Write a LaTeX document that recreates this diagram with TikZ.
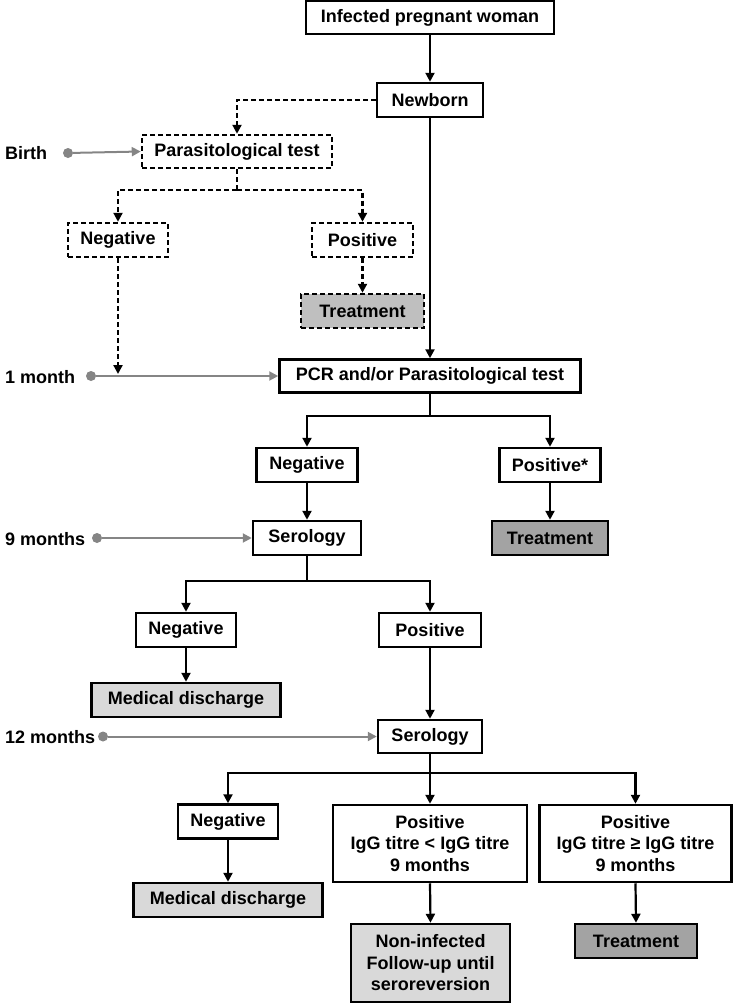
\documentclass[tikz,border=0pt]{standalone}
\usepackage{fontspec}
\setmainfont{Liberation Sans}
\usetikzlibrary{arrows.meta}
\definecolor{tgray}{HTML}{BFBFBF}
\definecolor{dgray}{HTML}{A3A3A3}
\definecolor{lgray}{HTML}{D9D9D9}
\definecolor{lineg}{HTML}{858585}
\begin{document}
\begin{tikzpicture}[x=1pt,y=-1pt,
  every node/.style={font=\fontsize{18}{21.5}\selectfont\bfseries},
  box/.style={draw,line width=2.5pt,inner sep=0pt,align=center,minimum height=34},
  dbox/.style={box,dash pattern=on 5pt off 3pt},
  conn/.style={line width=2.2pt,-{Triangle[length=9pt,width=9pt]}},
  dconn/.style={conn,dash pattern=on 5pt off 3pt},
  line/.style={line width=2.2pt},
  dline/.style={line,dash pattern=on 5pt off 3pt},
  gconn/.style={line width=2pt,lineg,-{Triangle[length=9pt,width=9pt]}},
  dot/.style={circle,fill=lineg,inner sep=0pt,minimum size=10pt},
  lab/.style={anchor=west,inner sep=0pt}]
\useasboundingbox (0,0) rectangle (733,1004);
% nodes
\node[box,minimum width=248,minimum height=33] (inf) at (430,17.5) {Infected pregnant woman};
\node[box,minimum width=106] (newborn) at (430,100) {Newborn};
\node[dbox,minimum width=190,minimum height=33] (param) at (237,151.5) {Parasitological test};
\node[dbox,minimum width=100] (neg0) at (118,240) {Negative};
\node[dbox,minimum width=101] (pos0) at (362.5,240) {Positive};
\node[dbox,minimum width=123,fill=tgray] (treat0) at (362.5,311) {Treatment};
\node[box,minimum width=301,minimum height=33] (pcr) at (430,376) {PCR and/or Parasitological test};
\node[box,minimum width=101] (neg1) at (307,465) {Negative};
\node[box,minimum width=101] (pos1) at (550,465) {Positive*};
\node[box,minimum width=108] (ser9) at (307,538) {Serology};
\node[box,minimum width=116,fill=dgray] (treat1) at (550,538) {Treatment};
\node[box,minimum width=100] (neg2) at (186,630) {Negative};
\node[box,minimum width=102] (pos2) at (430,630) {Positive};
\node[box,minimum width=189,fill=lgray] (md1) at (186,700) {Medical discharge};
\node[box,minimum width=104,minimum height=33] (ser12) at (430,736.5) {Serology};
\node[box,minimum width=100] (neg3) at (228,821.5) {Negative};
\node[box,minimum width=194,minimum height=77] (posA) at (430,843.5) {Positive\\IgG titre < IgG titre\\9 months};
\node[box,minimum width=192,minimum height=77] (posB) at (635.5,843.5) {Positive\\IgG titre ≥ IgG titre\\9 months};
\node[box,minimum width=189,fill=lgray] (md2) at (228,900) {Medical discharge};
\node[box,minimum width=159,minimum height=78,fill=lgray] (noninf) at (430.5,963) {Non-infected\\Follow-up until\\seroreversion};
\node[box,minimum width=122,fill=dgray] (treat2) at (636,941) {Treatment};
% time labels
\node[lab] (tbirth) at (5,153) {Birth};
\node[lab] (t1) at (5,377) {1 month};
\node[lab] (t9) at (5,539) {9 months};
\node[lab] (t12) at (5,737) {12 months};
\node[dot] (d0) at (68,153) {};
\node[dot] (d1) at (91,376) {};
\node[dot] (d9) at (97,538) {};
\node[dot] (d12) at (103,736.5) {};
% coordinates
\coordinate (b0) at (237,190);
\coordinate (m1) at (118,374);
\coordinate (b1) at (430,416);
\coordinate (b9) at (307,581);
\coordinate (b12) at (430,773);
% grey timeline
\draw[gconn] (d0) -- (param.west);
\draw[gconn] (d1) -- (pcr.west);
\draw[gconn] (d9) -- (ser9.west);
\draw[gconn] (d12) -- (ser12.west);
% dashed part
\draw[dconn] (newborn.west) -| (param.north);
\draw[dline] (param.south) -- (b0);
\draw[dconn] (b0) -| (neg0.north);
\draw[dconn] (b0) -| (pos0.north);
\draw[dconn] (pos0.south) -- (treat0.north);
\draw[dconn] (neg0.south) -- (m1);
% solid part
\draw[conn] (inf.south) -- (newborn.north);
\draw[conn] (newborn.south) -- (pcr.north);
\draw[line] (pcr.south) -- (b1);
\draw[conn] (b1) -| (neg1.north);
\draw[conn] (b1) -| (pos1.north);
\draw[conn] (neg1.south) -- (ser9.north);
\draw[conn] (pos1.south) -- (treat1.north);
\draw[line] (ser9.south) -- (b9);
\draw[conn] (b9) -| (neg2.north);
\draw[conn] (b9) -| (pos2.north);
\draw[conn] (neg2.south) -- (md1.north);
\draw[conn] (pos2.south) -- (ser12.north);
\draw[line] (ser12.south) -- (b12);
\draw[conn] (b12) -| (neg3.north);
\draw[conn] (b12) -- (posA.north);
\draw[conn] (b12) -| (posB.north);
\draw[conn] (neg3.south) -- (md2.north);
\draw[conn] (posA.south) -- (noninf.north);
\draw[conn] (posB.south) -- (treat2.north);
\end{tikzpicture}
\end{document}
